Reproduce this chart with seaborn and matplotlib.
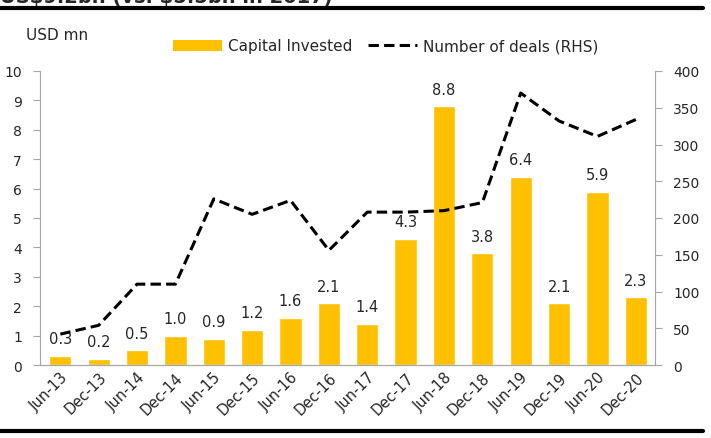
import numpy as np
import seaborn as sns
import matplotlib.pyplot as plt
from matplotlib.patches import Patch
from matplotlib.lines import Line2D

#%% Data
periods = ["Jun-13", "Dec-13", "Jun-14", "Dec-14", "Jun-15", "Dec-15", "Jun-16", "Dec-16",
           "Jun-17", "Dec-17", "Jun-18", "Dec-18", "Jun-19", "Dec-19", "Jun-20", "Dec-20"]
capital = [0.3, 0.2, 0.5, 1.0, 0.9, 1.2, 1.6, 2.1, 1.4, 4.3, 8.8, 3.8, 6.4, 2.1, 5.9, 2.3]
deals = [42, 54, 110, 110, 226, 205, 224, 156, 208, 208, 210, 221, 370, 332, 311, 334]
left_ticks = list(range(0, 11))
right_ticks = list(range(0, 401, 50))

bar_color = "#FFC000"
spine_color = "#A6A6A6"

#%% Plot
sns.set_style("white")
plt.rcParams["font.family"] = ["DejaVu Sans"]

fig = plt.figure(figsize=(7.11, 4.39), dpi=100)
ax = fig.add_axes([40/711, 1-366/439, (655-40)/711, (366-72)/439])

sns.barplot(x=periods, y=capital, color=bar_color, saturation=1, width=0.58, ax=ax)
for i, v in enumerate(capital):
    ax.annotate(f"{v:.1f}", (i, v), xytext=(0, 7), textcoords="offset points",
                ha="center", va="bottom", fontsize=10.5)

ax2 = ax.twinx()
sns.lineplot(x=np.arange(len(periods)), y=deals, ax=ax2, color="black", lw=2.2)
ax2.lines[0].set_dashes([3.4, 1.7])

ax.set_ylim(0, 10)
ax.set_yticks(left_ticks)
ax2.set_ylim(0, 400)
ax2.set_yticks(right_ticks)
ax.set_xlim(-0.53, len(periods) - 0.5)
ax.set_xlabel(None)
ax.set_ylabel(None)
ax2.set_xlabel(None)
ax2.set_ylabel(None)

ax.tick_params(axis="y", direction="out", length=5, width=0.8, color=spine_color,
               pad=8, labelsize=10, left=True)
ax2.tick_params(axis="y", direction="out", length=5, width=0.8, color=spine_color,
                pad=8, labelsize=10, right=True)
ax.tick_params(axis="x", length=0, pad=3, labelsize=10.5)
plt.setp(ax.get_xticklabels(), rotation=45, ha="right", rotation_mode="anchor")

for a in [ax, ax2]:
    a.spines["top"].set_visible(False)
    for s in ["left", "right", "bottom"]:
        a.spines[s].set_color(spine_color)
        a.spines[s].set_linewidth(0.8)

# legend and labels
handles = [Patch(facecolor=bar_color, edgecolor="none", label="Capital Invested"),
           Line2D([0], [0], color="black", lw=2.2, dashes=[3.4, 1.7], label="Number of deals (RHS)")]
fig.legend(handles=handles, loc="center", bbox_to_anchor=(386/711, 1-47/439), ncol=2,
           frameon=False, fontsize=11, handlelength=3.2, handletextpad=0.4, columnspacing=1.0)
fig.text(26/711, 1-36/439, "USD mn", va="center", ha="left", fontsize=11)

# clipped heading and rules from the source page
fig.text(0, 1-2.5/439, r"US\$9.2bn (vs. \$5.5bn in 2017)", va="baseline", ha="left",
         fontsize=14, fontweight="bold")
fig.add_artist(Line2D([0, 703/711], [1-9/439, 1-9/439], transform=fig.transFigure, color="black", lw=3))
fig.add_artist(Line2D([0, 703/711], [1-432/439, 1-432/439], transform=fig.transFigure, color="black", lw=3))

plt.savefig("out.png", dpi=100)
